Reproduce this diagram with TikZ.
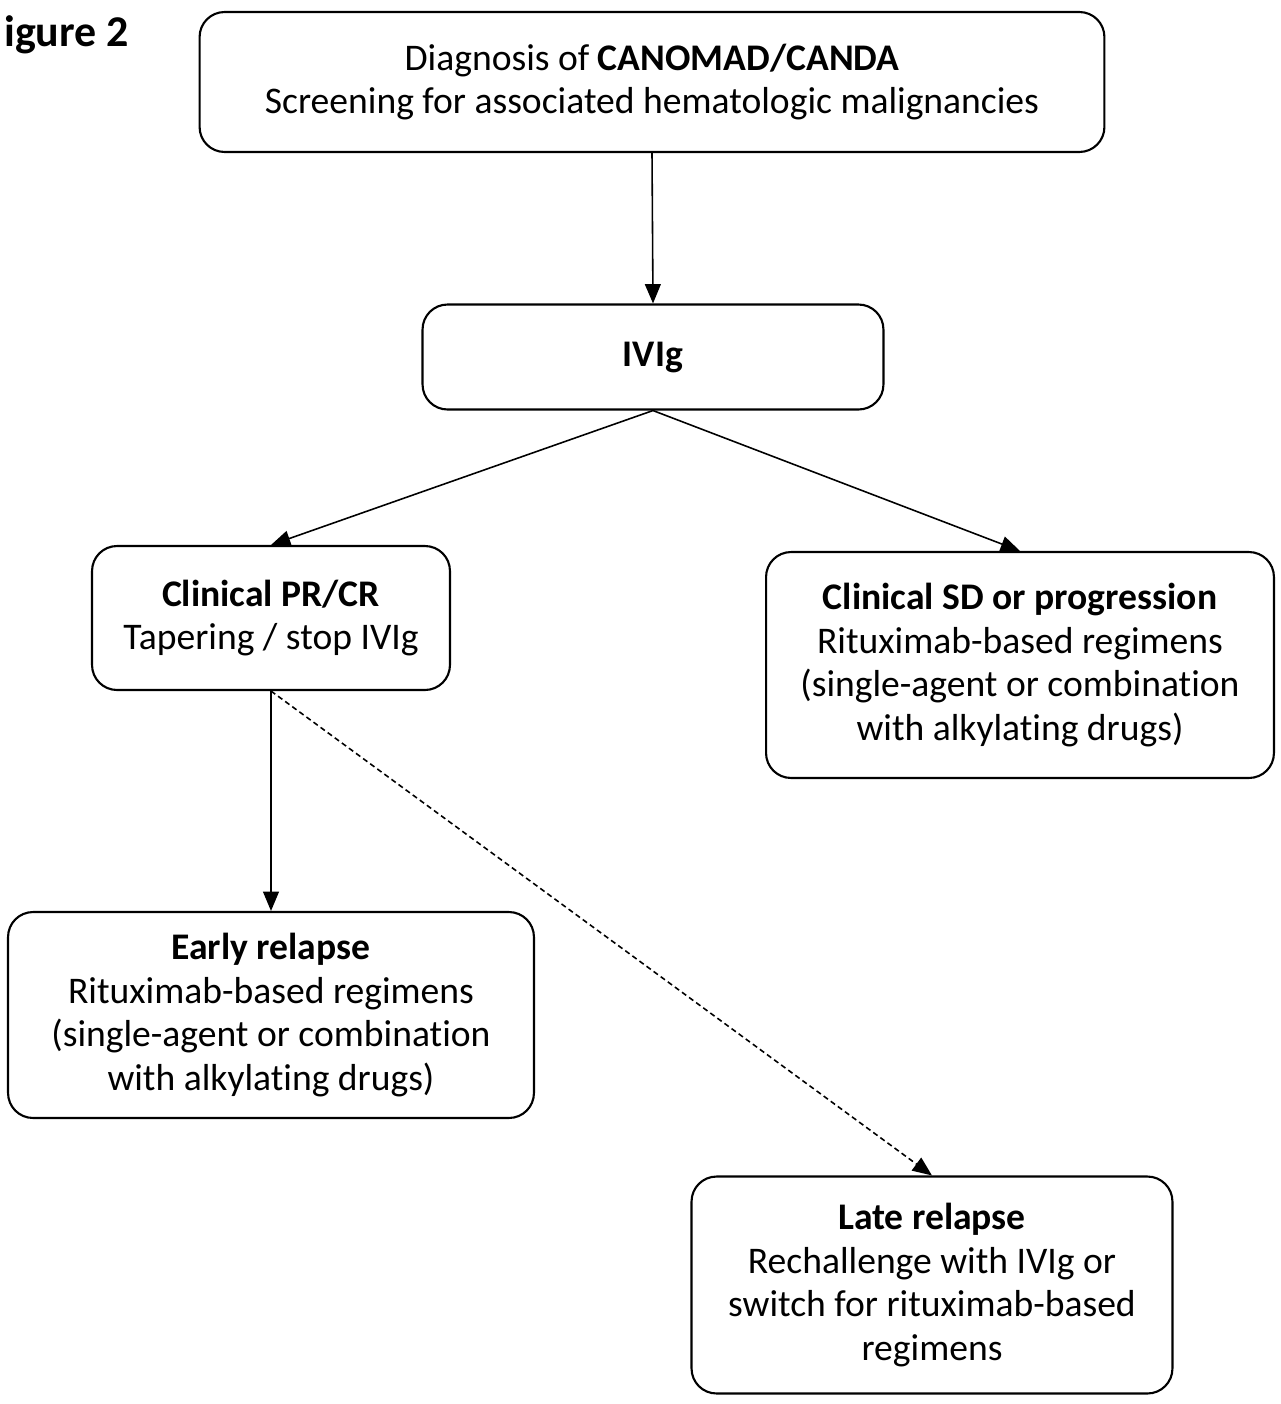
\documentclass[tikz,border=0pt]{standalone}
\usepackage{fontspec}
\setmainfont{Carlito}[Ligatures=NoCommon]
\usetikzlibrary{arrows.meta}
\tikzset{
  box/.style={draw, line width=1.2pt, rounded corners=0.5cm, align=center, inner sep=0pt},
  arr/.style={line width=0.9pt, -{Triangle[length=11pt,width=9pt]}},
}
\begin{document}
\begin{tikzpicture}[x=0.02cm, y=-0.02cm, font=\fontsize{21.4}{25}\selectfont]
\useasboundingbox (0,0) rectangle (1281,1404);

\node[anchor=base west, font=\fontsize{25}{28}\selectfont\bfseries] (fig) at (-2,46) {igure 2}; % cut title

\node[box, minimum width=18.1cm, minimum height=2.8cm] (diag) at (652,82)
  {Diagnosis of \textbf{CANOMAD/CANDA}\\Screening for associated hematologic malignancies};
\node[box, minimum width=9.22cm, minimum height=2.1cm] (ivig) at (653,357) {\textbf{IVIg}};
\node[box, minimum width=7.16cm, minimum height=2.88cm] (prcr) at (271,618)
  {\textbf{Clinical PR/CR}\\Tapering / stop IVIg};
\node[box, minimum width=10.16cm, minimum height=4.52cm] (sd) at (1020,665)
  {\textbf{Clinical SD or progression}\\Rituximab-based regimens\\(single-agent or combination\\with alkylating drugs)};
\node[box, minimum width=10.52cm, minimum height=4.12cm] (early) at (271,1015)
  {\textbf{Early relapse}\\Rituximab-based regimens\\(single-agent or combination\\with alkylating drugs)};
\node[box, minimum width=9.62cm, minimum height=4.34cm] (late) at (932,1285)
  {\textbf{Late relapse}\\Rechallenge with IVIg or\\switch for rituximab-based\\regimens};

% arrows
\draw[arr] (diag.south) -- (ivig.north);
\draw[arr] (ivig.south) -- (prcr.north);
\draw[arr] (ivig.south) -- (sd.north);
\draw[arr] (prcr.south) -- (early.north);
\draw[arr, dash pattern=on 3pt off 2pt] (prcr.south) -- (late.north);
\end{tikzpicture}
\end{document}
